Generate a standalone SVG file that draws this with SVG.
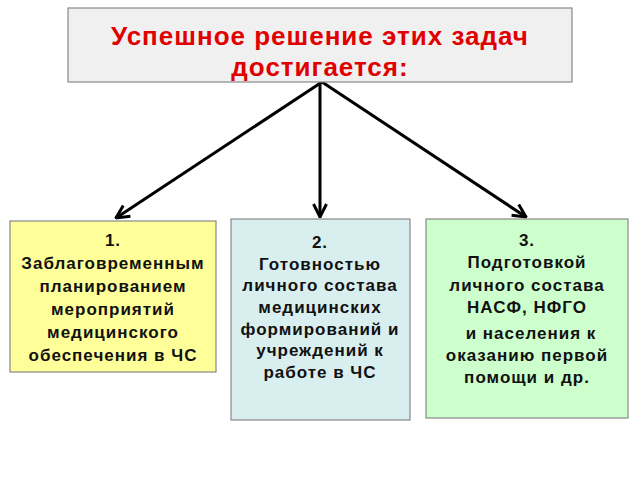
<svg xmlns="http://www.w3.org/2000/svg" width="640" height="480" viewBox="0 0 640 480">
<defs>
<style>
.box{stroke:#888;stroke-width:1.2}
.t{font-family:"Liberation Sans",Arial,sans-serif;font-weight:bold;font-size:17px;fill:#111;text-anchor:middle;letter-spacing:1px}
.title{font-family:"Liberation Sans",Arial,sans-serif;font-weight:bold;font-size:26px;fill:#e00000;text-anchor:middle;letter-spacing:1px}
.c{stroke:#000;stroke-width:3;fill:none}
</style>
<marker id="arr" viewBox="0 0 16 16" refX="15" refY="8" markerWidth="16" markerHeight="16" markerUnits="userSpaceOnUse" orient="auto">
<path d="M2,1.5 L15,8 L2,14.5" fill="none" stroke="#000" stroke-width="3"/>
</marker>
</defs>
<rect width="640" height="480" fill="#fff"/>
<g id="connectors">
<line class="c" x1="322" y1="82" x2="116" y2="218" marker-end="url(#arr)"/>
<line class="c" x1="320" y1="82" x2="320" y2="217" marker-end="url(#arr)"/>
<line class="c" x1="322" y1="82" x2="526" y2="217" marker-end="url(#arr)"/>
</g>
<g id="top">
<rect class="box" x="68" y="8" width="504" height="74" fill="#f0f0f0"/>
<text class="title" x="320" y="45">Успешное решение этих задач</text>
<text class="title" x="320" y="76">достигается:</text>
</g>
<g id="node1">
<rect class="box" x="10" y="221" width="206" height="151" fill="#ffff99"/>
<text class="t" x="113" y="246">1.</text>
<text class="t" x="113" y="269">Заблаговременным</text>
<text class="t" x="113" y="292">планированием</text>
<text class="t" x="113" y="315">мероприятий</text>
<text class="t" x="113" y="338">медицинского</text>
<text class="t" x="113" y="361">обеспечения в ЧС</text>
</g>
<g id="node2">
<rect class="box" x="231" y="219" width="179" height="201" fill="#d9eeee"/>
<text class="t" x="320" y="248">2.</text>
<text class="t" x="320" y="270">Готовностью</text>
<text class="t" x="320" y="291">личного состава</text>
<text class="t" x="320" y="313">медицинских</text>
<text class="t" x="320" y="335">формирований и</text>
<text class="t" x="320" y="356">учреждений к</text>
<text class="t" x="320" y="378">работе в ЧС</text>
</g>
<g id="node3">
<rect class="box" x="426" y="219" width="202" height="199" fill="#ccffcc"/>
<text class="t" x="527" y="246">3.</text>
<text class="t" x="527" y="268">Подготовкой</text>
<text class="t" x="527" y="291">личного состава</text>
<text class="t" x="527" y="313">НАСФ, НФГО</text>
<text class="t" x="531" y="339">и населения к</text>
<text class="t" x="527" y="361">оказанию первой</text>
<text class="t" x="527" y="383">помощи и др.</text>
</g>
</svg>
